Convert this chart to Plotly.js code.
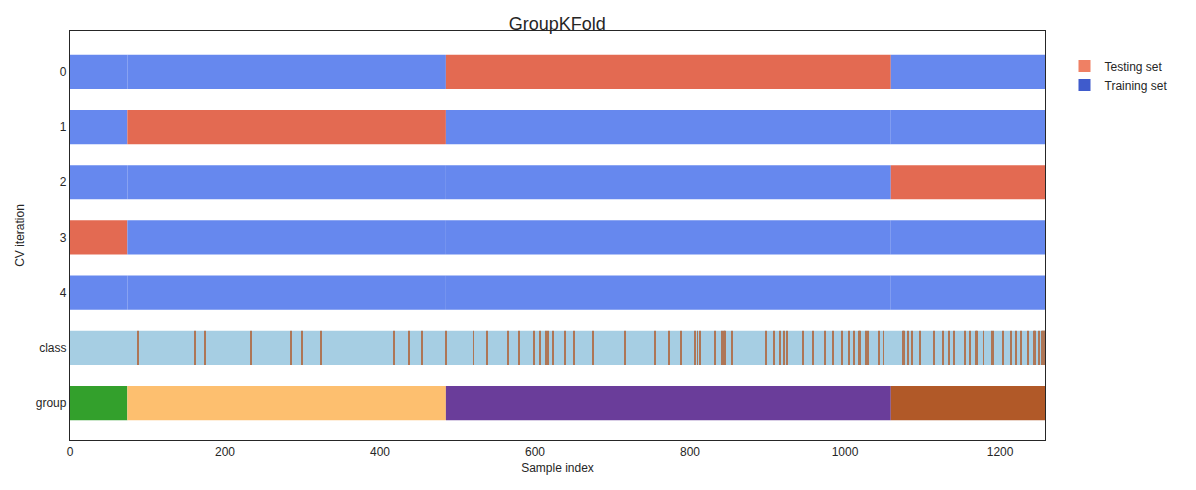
<!DOCTYPE html>
<html>
<head>
<meta charset="utf-8">
<script src="https://cdn.plot.ly/plotly-3.0.1.min.js"></script>
<style>body{margin:0;background:#fff}</style>
</head>
<body>
<div id="plot" style="width:1196px;height:490px"></div>
<script>
var nSamples = 1258;
var rowLabels = ['0', '1', '2', '3', '4', 'class', 'group'];
// group boundaries (sample index) and which group is tested in each fold
var groupBounds = [0, 74, 485, 1059, 1258];
var groupColors = ['#33a02c', '#fdbf6f', '#6a3d9a', '#b15928'];
var testGroupPerFold = [2, 1, 3, 0, null];
// indices of samples belonging to class 1
var classOne = [87, 161, 173, 233, 284, 299, 323, 418, 437, 454, 485, 520, 537, 564, 579,
    598, 606, 614, 616, 623, 638, 650, 674, 715, 754, 772, 788, 806, 809, 812, 832, 841,
    843, 845, 853, 897, 908, 916, 921, 924, 945, 958, 973, 984, 996, 1005, 1011, 1017,
    1019, 1027, 1029, 1043, 1049, 1074, 1075, 1081, 1086, 1096, 1114, 1126, 1133, 1140,
    1154, 1161, 1168, 1170, 1178, 1189, 1191, 1203, 1214, 1220, 1227, 1236, 1243, 1245,
    1250, 1253, 1255, 1256, 1257];

var trainColor = '#6688ee', testColor = '#e36a52';
var barW = 0.62;

function segTrace(y, base, len, color, opacity) {
    return {type: 'bar', orientation: 'h', y: y, base: base, x: len,
        width: barW, marker: {color: color, line: {width: 0}},
        opacity: opacity || 1, showlegend: false, hoverinfo: 'skip'};
}

var data = [];
for (var f = 0; f < testGroupPerFold.length; f++) {
    var ys = [], bs = [], ls = [], cs = [];
    for (var g = 0; g < groupColors.length; g++) {
        ys.push(f); bs.push(groupBounds[g]); ls.push(groupBounds[g + 1] - groupBounds[g]);
        cs.push(g === testGroupPerFold[f] ? testColor : trainColor);
    }
    data.push(segTrace(ys, bs, ls, cs));
}
// class row
data.push(segTrace([5], [0], [nSamples], '#a6cee3'));
data.push(segTrace(classOne.map(function () { return 5; }), classOne,
    classOne.map(function () { return 1.2; }), '#b15928', 0.75));
// group row
data.push(segTrace([6, 6, 6, 6], groupBounds.slice(0, 4),
    groupBounds.slice(1).map(function (v, i) { return v - groupBounds[i]; }), groupColors));

// legend entries
data.push({type: 'bar', orientation: 'h', x: [null], y: [null], name: 'Testing set', marker: {color: '#ef8064'}});
data.push({type: 'bar', orientation: 'h', x: [null], y: [null], name: 'Training set', marker: {color: '#3f5bcc'}});

var layout = {
    width: 1196, height: 490,
    margin: {l: 70, r: 151, t: 31, b: 50},
    barmode: 'overlay',
    font: {family: 'Liberation Sans, Arial, sans-serif', size: 12, color: '#262626'},
    title: {text: 'GroupKFold', font: {size: 18}, x: 0.466, xanchor: 'center', y: 0.965},
    xaxis: {range: [0, nSamples], tickvals: [0, 200, 400, 600, 800, 1000, 1200],
        showgrid: false, zeroline: false, showline: true, mirror: true,
        linecolor: '#262626', linewidth: 1.25, ticks: '',
        title: {text: 'Sample index', font: {size: 12}, standoff: 6}},
    yaxis: {range: [6.67, -0.74], tickvals: [0, 1, 2, 3, 4, 5, 6], ticktext: rowLabels,
        showgrid: false, zeroline: false, showline: true, mirror: true,
        linecolor: '#262626', linewidth: 1.25, ticks: '',
        title: {text: 'CV iteration', font: {size: 12}, standoff: 8}},
    legend: {x: 1.02, y: 0.95, xanchor: 'left', yanchor: 'top', font: {size: 12},
        traceorder: 'normal', bgcolor: 'rgba(0,0,0,0)'},
    plot_bgcolor: '#fff', paper_bgcolor: '#fff'
};

Plotly.newPlot('plot', data, layout, {displayModeBar: false});
</script>
</body>
</html>
